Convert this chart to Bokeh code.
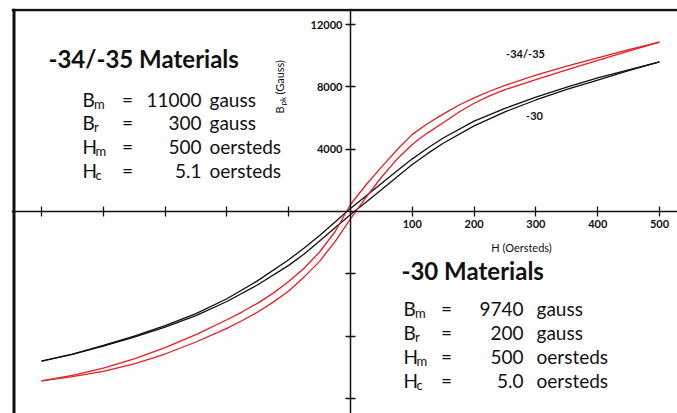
import math
from bokeh.plotting import figure
from bokeh.models import LinearAxis, FixedTicker, Span, Range1d, CustomJSTickFormatter
from bokeh.embed import file_html
from bokeh.resources import INLINE
from bokeh.core.properties import value

# ---------------- data ----------------
# -30 material, upper (descending) branch
H_30_upper = [-500, -450, -400, -350, -300, -250, -200, -150, -100, -75, -50, -25, 0, 25, 50, 75, 100, 125, 150, 200, 250, 300, 350, 400, 450, 500]
B_30_upper = [-9600, -9150, -8600, -8000, -7330, -6560, -5600, -4440, -3100, -2340, -1540, -680, 200, 1000, 1800, 2600, 3380, 4080, 4720, 5800, 6620, 7340, 7980, 8580, 9100, 9600]
# -30 material, lower (ascending) branch
H_30_lower = [-500, -450, -400, -350, -300, -250, -200, -150, -100, -75, -50, -25, 0, 25, 50, 75, 100, 125, 150, 200, 250, 300, 350, 400, 450, 500]
B_30_lower = [-9600, -9180, -8640, -8070, -7420, -6680, -5780, -4700, -3460, -2730, -1900, -1040, -200, 600, 1400, 2220, 3020, 3730, 4380, 5500, 6400, 7160, 7840, 8440, 9040, 9600]

# -34/-35 material, upper (descending) branch
H_34_upper = [-500, -450, -400, -350, -300, -250, -200, -175, -150, -125, -100, -75, -50, -25, 0, 25, 50, 75, 100, 125, 150, 175, 200, 225, 250, 300, 350, 400, 450, 500]
B_34_upper = [-10870, -10520, -10060, -9460, -8740, -7900, -6950, -6440, -5880, -5240, -4500, -3640, -2600, -1300, 450, 1700, 2850, 3950, 4950, 5650, 6250, 6820, 7300, 7720, 8100, 8750, 9330, 9870, 10390, 10870]
# -34/-35 material, lower (ascending) branch
H_34_lower = [-500, -450, -400, -350, -300, -250, -200, -175, -150, -125, -100, -75, -50, -25, 0, 25, 50, 75, 100, 110, 125, 150, 175, 200, 225, 250, 300, 350, 400, 450, 500]
B_34_lower = [-10870, -10600, -10260, -9780, -9150, -8380, -7500, -7000, -6450, -5820, -5100, -4200, -3200, -1930, -470, 900, 2200, 3350, 4300, 4620, 5050, 5700, 6370, 6950, 7420, 7820, 8470, 9100, 9700, 10300, 10870]

x_ticks = [-500, -400, -300, -200, -100, 100, 200, 300, 400, 500]
y_ticks = [-12000, -8000, -4000, 4000, 8000, 12000]

block_34_title = "-34/-35 Materials"
block_34_rows = [("B", "m", "11000", "gauss"), ("B", "r", "300", "gauss"),
                 ("H", "m", "500", "oersteds"), ("H", "c", "5.1", "oersteds")]
block_30_title = "-30 Materials"
block_30_rows = [("B", "m", "9740", "gauss"), ("B", "r", "200", "gauss"),
                 ("H", "m", "500", "oersteds"), ("H", "c", "5.0", "oersteds")]

# ---------------- layout helpers (pixel -> data) ----------------
X0, SX = 350.0, 0.618          # px of H=0, px per oersted
Y0, SY = 211.0, 62.3 / 4000.0  # px of B=0, px per gauss

def dx(px):
    return (px - X0) / SX

def dy(py):
    return (Y0 - py) / SY

RED = "#ec1c24"
BLK = "#111111"
FONT = "Lato"

FL, FT = 11, 8  # frame left / top in px
p = figure(width=677, height=413, output_backend="svg", toolbar_location=None,
           x_axis_type=None, y_axis_type=None,
           x_range=Range1d(dx(FL), dx(677)), y_range=Range1d(dy(413), dy(FT)),
           min_border_left=FL, min_border_top=FT, min_border_right=0, min_border_bottom=0)
p.outline_line_color = None
p.background_fill_color = "white"

fmt = CustomJSTickFormatter(code="return tick > 0 ? String(tick) : '';")

xa = LinearAxis(fixed_location=0, ticker=FixedTicker(ticks=x_ticks), formatter=fmt)
ya = LinearAxis(fixed_location=0, ticker=FixedTicker(ticks=y_ticks), formatter=fmt)
for ax in (xa, ya):
    ax.axis_line_color = BLK
    ax.axis_line_width = 1.5
    ax.major_tick_line_color = BLK
    ax.major_tick_line_width = 1.3
    ax.major_tick_in = 5
    ax.major_tick_out = 5
    ax.minor_tick_line_color = None
    ax.major_label_text_font = FONT
    ax.major_label_text_font_style = "bold"
    ax.major_label_text_font_size = "11px"
    ax.major_label_text_color = BLK
    ax.major_label_standoff = 3
p.add_layout(xa, "below")
p.add_layout(ya, "left")

# frame borders (left and top only)
p.add_layout(Span(location=dx(13.5), dimension="height", line_color=BLK, line_width=3))
p.add_layout(Span(location=dy(9.5), dimension="width", line_color=BLK, line_width=2.5))

# curves
p.line(H_30_upper, B_30_upper, line_color=BLK, line_width=1.3)
p.line(H_30_lower, B_30_lower, line_color=BLK, line_width=1.3)
p.line(H_34_upper, B_34_upper, line_color=RED, line_width=1.3)
p.line(H_34_lower, B_34_lower, line_color=RED, line_width=1.3)

def txt(px, py, s, size, bold=False, align="left", baseline="middle", angle=0.0):
    p.text(x=[dx(px)], y=[dy(py)], text=[s], angle=angle,
           text_font=value(FONT), text_font_size=value(f"{size}px"),
           text_font_style="bold" if bold else "normal",
           text_color=BLK, text_align=align, text_baseline=baseline)

# curve labels
txt(525, 53, "-34/-35", 11, bold=True, align="center")
txt(534, 115, "-30", 11, bold=True, align="center")

# axis titles
txt(521, 247, "H (Oersteds)", 11, align="center")
txt(279, 113, "B", 11, angle=math.pi / 2)
txt(282, 105, "pk", 8, angle=math.pi / 2)
txt(279, 94, "(Gauss)", 11, angle=math.pi / 2)

def block(x_title, x_left, x_eq, x_num, x_unit, y_title, y_rows, title, rows):
    txt(x_title, y_title, title, 24, bold=True)
    for (sym, sub, num, unit), yy in zip(rows, y_rows):
        txt(x_left, yy, sym, 19)
        sw = 13 if sym == "H" else 11.5
        txt(x_left + sw, yy + 4, sub, 13)
        txt(x_eq, yy, "=", 19, align="center")
        txt(x_num, yy, num, 19, align="right")
        txt(x_unit, yy, unit, 19)

block(48, 82, 127, 201, 209, 58, [99, 122, 146, 170], block_34_title, block_34_rows)
block(401, 403, 446, 523, 536, 270, [308, 332, 356, 380], block_30_title, block_30_rows)

open("out.html", "w").write(file_html(p, INLINE))
